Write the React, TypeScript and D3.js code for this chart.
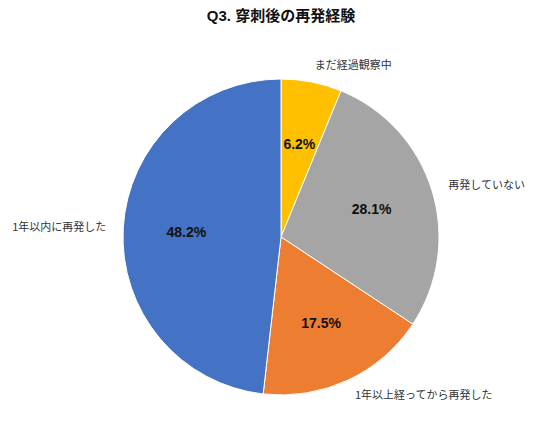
import * as d3 from 'd3';

const categories = ['まだ経過観察中', '再発していない', '1年以上経ってから再発した', '1年以内に再発した'];
const shares = [6.2, 28.1, 17.5, 48.2];
const colors = ['#FFC000', '#A5A5A5', '#ED7D31', '#4472C4'];

const width = 536;
const height = 444;
const cx = 281;
const cy = 237;
const radius = 158;

const App = () => {
  const data = categories.map((name, i) => ({ name, value: shares[i], color: colors[i] }));
  const pie = d3.pie<any>().value(d => d.value).sort(null);
  const arcs = pie(data);
  const arc = d3.arc<any>().innerRadius(0).outerRadius(radius);
  const valueArc = d3.arc<any>().innerRadius(radius * 0.6).outerRadius(radius * 0.6);
  const font = '"Noto Sans CJK JP", "Noto Sans", sans-serif';
  const boldFont = '"Liberation Sans", "Noto Sans CJK JP", sans-serif';

  return (
    <svg width={width} height={height} style={{ position: 'absolute', left: 0, top: 0 }}>
      <rect width={width} height={height} fill="#fff" />
      <text x={cx} y={21} textAnchor="middle" fontFamily={boldFont} fontWeight="bold" fontSize={15} fill="#111">
        Q3. 穿刺後の再発経験
      </text>
      <g transform={`translate(${cx},${cy})`}>
        {arcs.map(a => (
          <path key={a.data.name} d={arc(a) as string} fill={a.data.color} stroke="#fff" strokeWidth={1} />
        ))}
        {arcs.map(a => {
          const [x, y] = valueArc.centroid(a);
          return (
            <text key={'v' + a.data.name} x={x} y={y} dy="0.35em" textAnchor="middle"
              fontFamily={boldFont} fontWeight="bold" fontSize={14} fill="#111">
              {a.data.value.toFixed(1)}%
            </text>
          );
        })}
        {arcs.map(a => {
          const mid = (a.startAngle + a.endAngle) / 2;
          const r = radius + 17;
          const x = Math.sin(mid) * r;
          const y = -Math.cos(mid) * r;
          return (
            <text key={'l' + a.data.name} x={x} y={y} dy="0.35em" textAnchor={x >= 0 ? 'start' : 'end'}
              fontFamily={font} fontSize={11} fill="#333">
              {a.data.name}
            </text>
          );
        })}
      </g>
    </svg>
  );
};

export default App;
